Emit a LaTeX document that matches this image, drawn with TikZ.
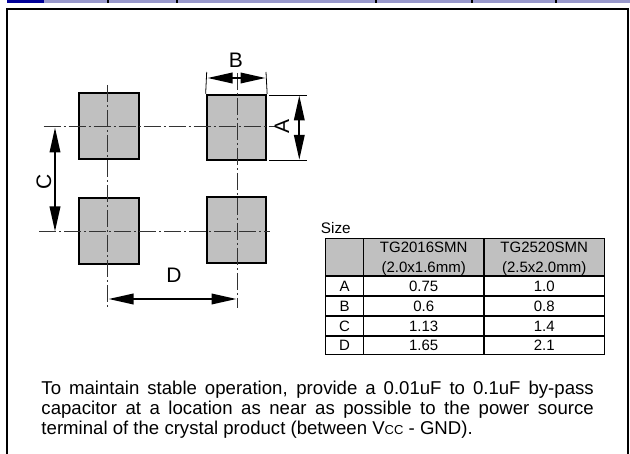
\documentclass[tikz,border=0pt]{standalone}
\usepackage{fontspec}
\setmainfont{Liberation Sans}
\usetikzlibrary{arrows.meta}
\definecolor{lav}{HTML}{9999CC}
\definecolor{navy2}{HTML}{000099}
\definecolor{padgray}{HTML}{C0C0C0}
\definecolor{cdl}{HTML}{333333}
\tikzset{
  x=1pt,y=-1pt,
  pad/.style={draw=black,fill=padgray,line width=2pt,inner sep=0pt,minimum width=59.5pt,minimum height=65.5pt},
  centerline/.style={draw=cdl,line width=1pt,dash pattern=on 17pt off 3pt on 2pt off 3pt},
  extline/.style={draw=black,line width=0.8pt},
  dimarrow/.style={draw=black,line width=2pt,{Triangle[length=25pt,width=10.5pt]}-{Triangle[length=25pt,width=10.5pt]},shorten >=0pt,shorten <=0pt},
  dimlabel/.style={font=\fontsize{21}{21}\selectfont,inner sep=0pt},
  cell/.style={draw=black,line width=1.4pt,inner sep=0pt,font=\fontsize{15}{15}\selectfont},
  para/.style={font=\fontsize{18.6}{20}\selectfont,inner sep=0pt,anchor=base west},
}
\begin{document}
\begin{tikzpicture}
\useasboundingbox (0,0) rectangle (630,454);
% top strip
\fill[lav] (7,0) rectangle (630,3);
\fill[navy2] (7,0) rectangle (44,3);
\foreach \tx in {108,176.5,375.5,472,556}{\fill[black] (\tx-1,0) rectangle (\tx+1,3);}
% frame
\draw[black,line width=2pt] (7,462) -- (7,9.5) -- (627.5,9.5) -- (627.5,462);
% pads
\node[pad] (tl) at (109.2,126) {};
\node[pad] (tr) at (236.4,127.5) {};
\node[pad] (bl) at (109.2,231) {};
\node[pad] (br) at (236.4,230) {};
% centre lines
\coordinate (v1a) at (107.7,85); \coordinate (v1b) at (107.7,308);
\coordinate (v2a) at (237,73);   \coordinate (v2b) at (237,308);
\coordinate (h1a) at (43.5,127); \coordinate (h1b) at (275,127);
\coordinate (h2a) at (39,231.7); \coordinate (h2b) at (269.5,231.7);
\draw[centerline] (v1a) -- (v1b);
\draw[centerline] (v2a) -- (v2b);
\draw[centerline] (h1a) -- (h1b);
\draw[centerline] (h2a) -- (h2b);
% extension lines
\coordinate (bl1) at (206.7,72); \coordinate (br1) at (266,72);
\coordinate (at1) at (269.3,95); \coordinate (at2) at (307.3,95);
\coordinate (ab1) at (269.3,160); \coordinate (ab2) at (307.3,160);
\draw[extline] (bl1) -- (tr.north west);
\draw[extline] (br1) -- (tr.north east);
\draw[extline] (at1) -- (at2);
\draw[extline] (ab1) -- (ab2);
% dimension arrows
\coordinate (ba) at (207.5,78); \coordinate (bb) at (265.5,78);
\coordinate (aa) at (299.3,95.5); \coordinate (ab) at (299.3,159.8);
\coordinate (ca) at (55,127.5); \coordinate (cb) at (55,231.5);
\coordinate (da) at (108.5,299); \coordinate (db) at (236.5,299);
\draw[dimarrow] (ba) -- (bb);
\draw[dimarrow] (aa) -- (ab);
\draw[dimarrow] (ca) -- (cb);
\draw[dimarrow] (da) -- (db);
% labels
\node[dimlabel] (lb) at (236,60.5) {B};
\node[dimlabel,rotate=90] (la) at (282,127) {A};
\node[dimlabel,rotate=90] (lc) at (44,181.7) {C};
\node[dimlabel] (ld) at (174,275.5) {D};
% table
\node[font=\fontsize{15.3}{15}\selectfont,inner sep=0pt,anchor=base west] (sz) at (320.7,234) {Size};
\foreach \nm/\cx/\w in {a/344.5/37.6,b/423.7/120.7,c/544.2/120.3}{
  \node[cell,fill=padgray,minimum width=\w pt,minimum height=37.7pt,align=center] (h\nm) at (\cx,257.2) {};
  \node[cell,minimum width=\w pt,minimum height=20pt] (ra\nm) at (\cx,286) {};
  \node[cell,minimum width=\w pt,minimum height=20pt] (rb\nm) at (\cx,306) {};
  \node[cell,minimum width=\w pt,minimum height=20pt] (rc\nm) at (\cx,326) {};
  \node[cell,minimum width=\w pt,minimum height=18.7pt] (rd\nm) at (\cx,345.4) {};
}
\tikzset{celltext/.style={font=\fontsize{15}{15}\selectfont,inner sep=0pt,anchor=base}}
\node[celltext] (t1) at (423.7,252.5) {TG2016SMN};
\node[celltext] (t2) at (423.7,272.5) {(2.0x1.6mm)};
\node[celltext] (t3) at (544.2,252.5) {TG2520SMN};
\node[celltext] (t4) at (544.2,272.5) {(2.5x2.0mm)};
\foreach \yb/\nm/\l/\p/\q in {291.5/a/A/0.75/1.0,311.5/b/B/0.6/0.8,331.5/c/C/1.13/1.4,350.8/d/D/1.65/2.1}{
  \node[celltext] (x\nm) at (344.5,\yb) {\l};
  \node[celltext] (y\nm) at (423.7,\yb) {\p};
  \node[celltext] (z\nm) at (544.2,\yb) {\q};
}
% paragraph
\node[para] (p1) at (41.3,394.5) {\makebox[552.3pt][s]{To maintain stable operation, provide a 0.01uF to 0.1uF by-pass}};
\node[para] (p2) at (41.3,414.5) {\makebox[552.3pt][s]{capacitor at a location as near as possible to the power source}};
\node[para] (p3) at (41.3,434.5) {terminal of the crystal product (between V{\fontsize{13}{13}\selectfont CC} - GND).};
\end{tikzpicture}
\end{document}
